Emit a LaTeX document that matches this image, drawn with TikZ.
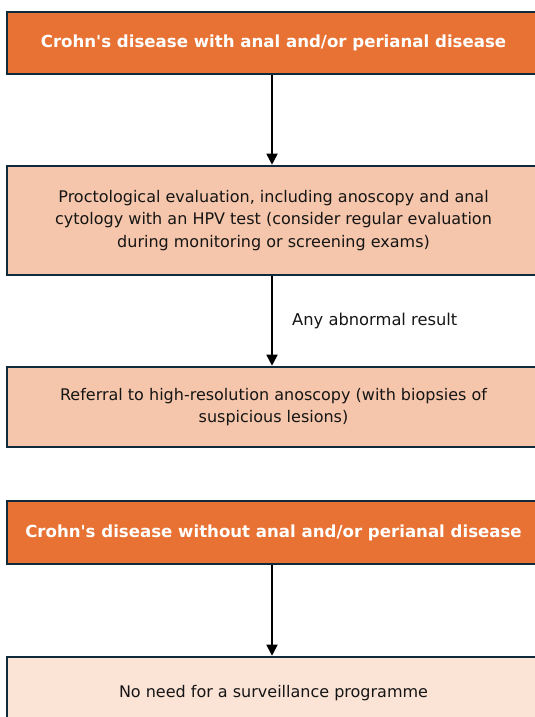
\documentclass[tikz,border=0pt]{standalone}
\usepackage{fontspec}
\setmainfont{DejaVu Sans}[Ligatures=TeXOff]
\usetikzlibrary{arrows.meta}
\definecolor{orangebox}{HTML}{E87233}
\definecolor{salmonbox}{HTML}{F5C6AB}
\definecolor{palebox}{HTML}{FBE3D6}
\definecolor{edgecol}{HTML}{0F2A3A}
\definecolor{txt}{HTML}{151515}
\begin{document}
\begin{tikzpicture}[x=1pt,y=-1pt,
  boxbase/.style={draw=edgecol,line width=2.6pt,minimum width=533pt,inner sep=0pt,align=center,font=\fontsize{16}{22.5}\selectfont},
  headbox/.style={boxbase,fill=orangebox,text=white,font=\bfseries\fontsize{16.6}{22}\selectfont},
  stepbox/.style={boxbase,fill=salmonbox,text=txt},
  endbox/.style={boxbase,fill=palebox,text=txt},
  arr/.style={draw=black,line width=1.8pt,-{Triangle[length=11pt,width=11pt]}}]
\useasboundingbox (0,0) rectangle (535,717);
\node[headbox,minimum height=62pt] (h1) at (273.5,43) {Crohn's disease with anal and/or perianal disease};
\node[stepbox,minimum height=109pt] (s1) at (273.5,220.5) {Proctological evaluation, including anoscopy and anal\\cytology with an HPV test (consider regular evaluation\\during monitoring or screening exams)};
\node[stepbox,minimum height=80pt] (s2) at (273.5,407) {Referral to high-resolution anoscopy (with biopsies of\\suspicious lesions)};
\node[headbox,minimum height=63pt] (h2) at (273.5,532.5) {Crohn's disease without anal and/or perianal disease};
\node[endbox,minimum height=72pt] (e1) at (273.5,693) {No need for a surveillance programme};
\draw[arr] (h1.south -| 272,0) -- (s1.north -| 272,0);
\draw[arr] (s1.south -| 272,0) -- node[right=16pt,text=txt,font=\fontsize{16.3}{18}\selectfont] (lbl) {Any abnormal result} (s2.north -| 272,0);
\draw[arr] (h2.south -| 272,0) -- (e1.north -| 272,0);
\end{tikzpicture}
\end{document}
